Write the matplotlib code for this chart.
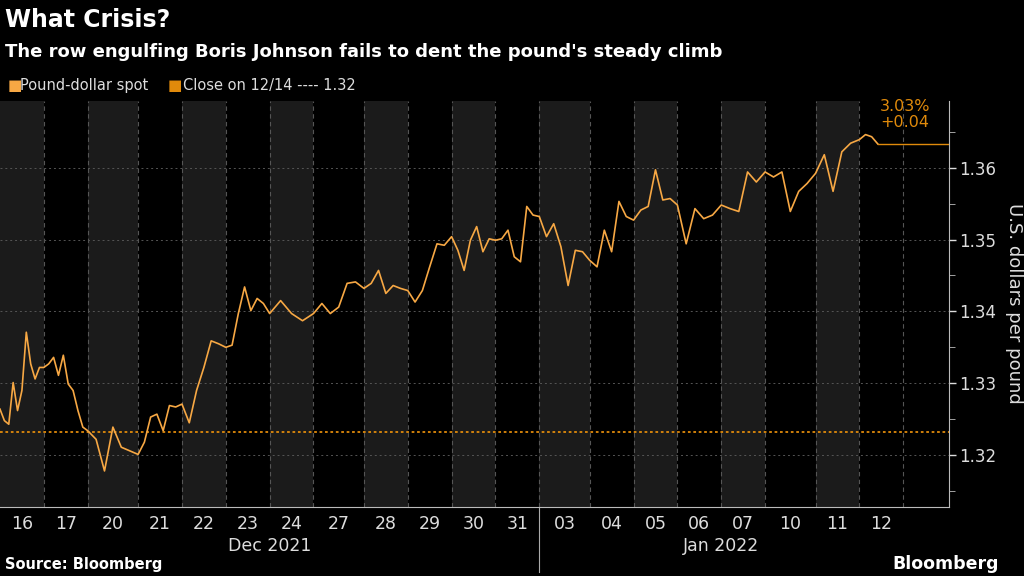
import matplotlib.pyplot as plt
import numpy as np

days = ["16", "17", "20", "21", "22", "23", "24", "27", "28", "29", "30", "31",
        "03", "04", "05", "06", "07", "10", "11", "12"]
month = ["Dec"] * 12 + ["Jan"] * 8
# trading days after a weekend get a slightly wider slot, as in the original
after_weekend = ["20", "27", "03", "10"]

# intraday GBPUSD values per day
prices = [
    [1.3264, 1.3248, 1.3243, 1.3301, 1.3262, 1.3290, 1.3371, 1.3327, 1.3306, 1.3322],
    [1.3322, 1.3327, 1.3336, 1.3311, 1.3339, 1.3299, 1.3290, 1.3262, 1.3239],
    [1.3234, 1.3222, 1.3178, 1.3239, 1.3211, 1.3206],
    [1.3201, 1.3218, 1.3253, 1.3257, 1.3234, 1.3269, 1.3267],
    [1.3271, 1.3245, 1.3290, 1.3322, 1.3359, 1.3355],
    [1.3350, 1.3353, 1.3397, 1.3434, 1.3401, 1.3418, 1.3411],
    [1.3397, 1.3415, 1.3397, 1.3387],
    [1.3397, 1.3411, 1.3397, 1.3406, 1.3439, 1.3441],
    [1.3432, 1.3439, 1.3457, 1.3425, 1.3436, 1.3432],
    [1.3429, 1.3413, 1.3429, 1.3462, 1.3494, 1.3492],
    [1.3504, 1.3485, 1.3457, 1.3499, 1.3518, 1.3483, 1.3501],
    [1.3499, 1.3501, 1.3513, 1.3476, 1.3469, 1.3546, 1.3534],
    [1.3532, 1.3504, 1.3522, 1.3490, 1.3436, 1.3485, 1.3483],
    [1.3471, 1.3462, 1.3513, 1.3483, 1.3553, 1.3532],
    [1.3527, 1.3541, 1.3546, 1.3597, 1.3555, 1.3557],
    [1.3548, 1.3494, 1.3543, 1.3529, 1.3534],
    [1.3548, 1.3543, 1.3539, 1.3594, 1.3580],
    [1.3594, 1.3587, 1.3594, 1.3539, 1.3567, 1.3578],
    [1.3592, 1.3618, 1.3567, 1.3622, 1.3634],
    [1.3639, 1.3646, 1.3643, 1.3633],
]
last_day_fraction = 0.42
close_1214 = 1.3232
yticks = [1.32, 1.33, 1.34, 1.35, 1.36]

line_c = "#f7a844"
close_c = "#e08a0b"

widths = [1.15 if d in after_weekend else 1.0 for d in days]
edges = np.concatenate([[0], np.cumsum(widths)])

xs, ys = [], []
for i, vals in enumerate(prices):
    last = i == len(prices) - 1
    frac = last_day_fraction if last else 1.0
    pos = np.linspace(0, frac, len(vals), endpoint=last)
    xs.extend(edges[i] + pos * widths[i])
    ys.extend(vals)

fig = plt.figure(figsize=(10.24, 5.76), dpi=100, facecolor="black")
ax = fig.add_axes([0.0, 0.12, 0.927, 0.705], facecolor="black")

for i in range(len(days)):
    if i % 2 == 0:
        ax.axvspan(edges[i], edges[i + 1], color="#1b1b1b", lw=0, zorder=0)
    ax.axvline(edges[i + 1], color="#555555", ls=(0, (4, 3)), lw=0.8, zorder=1)
for t in yticks:
    ax.axhline(t, color="#555555", ls=(0, (2, 3)), lw=0.7, zorder=1)

ax.axhline(close_1214, color=close_c, ls=(0, (1.5, 1.5)), lw=1.3, zorder=2)
ax.plot(xs, ys, color=line_c, lw=1.2, zorder=3)
xmax = edges[-1] + 1.05
ax.plot([xs[-1], xmax], [ys[-1], ys[-1]], color=close_c, lw=1, zorder=3)
ax.text(xs[-1] + 0.05, 1.3652, "3.03%\n+0.04", color=close_c, fontsize=11.5,
        ha="left", va="bottom", linespacing=1.1)

ax.set_xlim(0, xmax)
ax.set_ylim(1.3128, 1.3693)
ax.yaxis.tick_right()
ax.yaxis.set_label_position("right")
ax.set_yticks(yticks)
ax.set_yticklabels([f"{t:.2f}" for t in yticks])
ax.set_yticks([1.315, 1.325, 1.335, 1.345, 1.355, 1.365], minor=True)
ax.tick_params(axis="y", colors="#dddddd", labelsize=12, length=5, width=1, pad=2)
ax.tick_params(axis="y", which="minor", length=4, color="#bbbbbb")
ax.set_ylabel("U.S. dollars per pound", color="#dddddd", fontsize=13,
              rotation=270, va="center")
ax.yaxis.set_label_coords(1.068, 0.5)

centers = (edges[:-1] + edges[1:]) / 2
ax.set_xticks(centers)
ax.set_xticklabels(days)
ax.tick_params(axis="x", colors="#dddddd", labelsize=12.5, length=0, pad=6)
for s in ["top", "left"]:
    ax.spines[s].set_visible(False)
ax.spines["bottom"].set_color("#bbbbbb")
ax.spines["right"].set_color("#bbbbbb")

for m, lab in [("Dec", "Dec 2021"), ("Jan", "Jan 2022")]:
    idx = [i for i, mm in enumerate(month) if mm == m]
    mid = (edges[idx[0]] + edges[idx[-1] + 1]) / 2
    ax.text(mid, -0.075, lab, transform=ax.get_xaxis_transform(), color="#dddddd",
            fontsize=12.5, ha="center", va="top")
split = edges[month.index("Jan")]
ax.plot([split, split], [0, -0.16], transform=ax.get_xaxis_transform(),
        color="#aaaaaa", lw=0.8, clip_on=False)

fig.text(0.005, 0.965, "What Crisis?", color="white", fontsize=17, weight="bold", va="center")
fig.text(0.005, 0.91, "The row engulfing Boris Johnson fails to dent the pound's steady climb",
         color="white", fontsize=13, weight="bold", va="center")
fig.text(0.007, 0.851, "\u25a0", color=line_c, fontsize=11, va="center")
fig.text(0.02, 0.851, "Pound-dollar spot", color="#dddddd", fontsize=10.5, va="center")
fig.text(0.164, 0.851, "\u25a0", color=close_c, fontsize=11, va="center")
fig.text(0.179, 0.851, "Close on 12/14 ---- 1.32", color="#dddddd", fontsize=10.5, va="center")
fig.text(0.005, 0.02, "Source: Bloomberg", color="white", fontsize=10.5, weight="bold", va="center")
fig.text(0.975, 0.02, "Bloomberg", color="white", fontsize=12.5, weight="bold", va="center", ha="right")

fig.savefig("out.png", dpi=100, facecolor="black")
